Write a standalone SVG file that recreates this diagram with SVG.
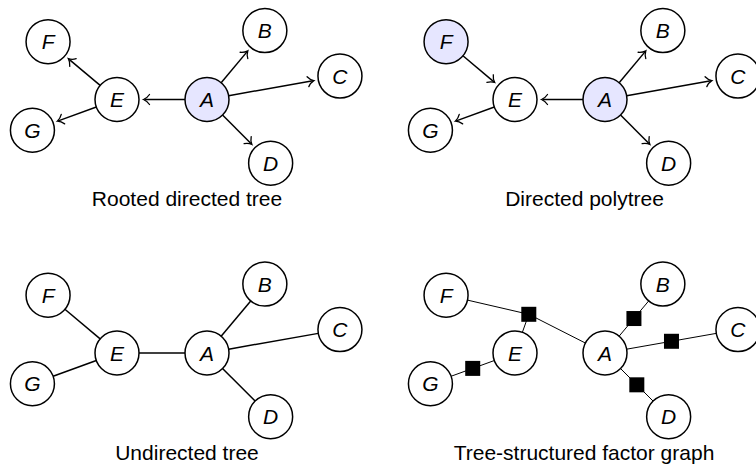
<svg xmlns="http://www.w3.org/2000/svg" width="756" height="464" viewBox="0 0 756 464">
<style>
.n circle{fill:#ffffff;stroke:#000;stroke-width:1.5}
.n.hl circle{fill:#e6e6ff}
.n text{font-family:"Liberation Sans",Arial,sans-serif;font-style:italic;font-size:21px;text-anchor:middle;fill:#000}
.cap{font-family:"Liberation Sans",Arial,sans-serif;font-size:21px;text-anchor:middle;fill:#000}
.e{stroke:#000;stroke-width:1.5;fill:none}
.arr{marker-end:url(#to)}
.thin{stroke:#000;stroke-width:1;fill:none}
.fac{fill:#000}
</style>
<defs>
<marker id="to" markerUnits="userSpaceOnUse" markerWidth="12" markerHeight="14" viewBox="-8 -7 10 14" refX="-1" refY="0" orient="auto">
<path d="M -6 -5 C -4 -2 -1.5 -0.6 0 0 C -1.5 0.6 -4 2 -6 5" fill="none" stroke="#000" stroke-width="1.3" stroke-linecap="round"/>
</marker>
</defs>

<!-- Panel 1: Rooted directed tree -->
<g id="panel1">
<g id="p1-edges">
<line class="e arr" x1="221.14" y1="82.65" x2="247.17" y2="51.63"/>
<line class="e arr" x1="228.67" y1="95.68" x2="312.87" y2="80.83"/>
<line class="e arr" x1="222.56" y1="115.06" x2="251.19" y2="143.69"/>
<line class="e arr" x1="185" y1="99.5" x2="144.5" y2="99.5"/>
<line class="e arr" x1="100.15" y1="85.36" x2="69.13" y2="59.33"/>
<line class="e arr" x1="96.33" y1="107.02" x2="58.27" y2="120.87"/>
</g>
<g id="p1-A" class="n hl"><circle cx="207" cy="99.5" r="22"/><text x="207" y="107">A</text></g>
<g id="p1-B" class="n"><circle cx="264.85" cy="30.56" r="22"/><text x="264.85" y="38.06">B</text></g>
<g id="p1-C" class="n"><circle cx="339.95" cy="76.06" r="22"/><text x="339.95" y="83.56">C</text></g>
<g id="p1-D" class="n"><circle cx="270.64" cy="163.14" r="22"/><text x="270.64" y="170.64">D</text></g>
<g id="p1-E" class="n"><circle cx="117" cy="99.5" r="22"/><text x="117" y="107">E</text></g>
<g id="p1-F" class="n"><circle cx="48.06" cy="41.65" r="22"/><text x="48.06" y="49.15">F</text></g>
<g id="p1-G" class="n"><circle cx="32.43" cy="130.28" r="22"/><text x="32.43" y="137.78">G</text></g>
<text class="cap" x="187" y="206">Rooted directed tree</text>
</g>

<!-- Panel 2: Directed polytree -->
<g id="panel2" transform="translate(398,0)">
<g id="p2-edges">
<line class="e arr" x1="221.14" y1="82.65" x2="247.17" y2="51.63"/>
<line class="e arr" x1="228.67" y1="95.68" x2="312.87" y2="80.83"/>
<line class="e arr" x1="222.56" y1="115.06" x2="251.19" y2="143.69"/>
<line class="e arr" x1="185" y1="99.5" x2="144.5" y2="99.5"/>
<line class="e arr" x1="64.91" y1="55.79" x2="95.93" y2="81.82"/>
<line class="e arr" x1="96.33" y1="107.02" x2="58.27" y2="120.87"/>
</g>
<g id="p2-A" class="n hl"><circle cx="207" cy="99.5" r="22"/><text x="207" y="107">A</text></g>
<g id="p2-B" class="n"><circle cx="264.85" cy="30.56" r="22"/><text x="264.85" y="38.06">B</text></g>
<g id="p2-C" class="n"><circle cx="339.95" cy="76.06" r="22"/><text x="339.95" y="83.56">C</text></g>
<g id="p2-D" class="n"><circle cx="270.64" cy="163.14" r="22"/><text x="270.64" y="170.64">D</text></g>
<g id="p2-E" class="n"><circle cx="117" cy="99.5" r="22"/><text x="117" y="107">E</text></g>
<g id="p2-F" class="n hl"><circle cx="48.06" cy="41.65" r="22"/><text x="48.06" y="49.15">F</text></g>
<g id="p2-G" class="n"><circle cx="32.43" cy="130.28" r="22"/><text x="32.43" y="137.78">G</text></g>
<text class="cap" x="186.5" y="206">Directed polytree</text>
</g>

<!-- Panel 3: Undirected tree -->
<g id="panel3" transform="translate(0,253.5)">
<g id="p3-edges">
<line class="e" x1="221.14" y1="82.65" x2="250.71" y2="47.41"/>
<line class="e" x1="228.67" y1="95.68" x2="318.28" y2="79.88"/>
<line class="e" x1="222.56" y1="115.06" x2="255.08" y2="147.58"/>
<line class="e" x1="185" y1="99.5" x2="139" y2="99.5"/>
<line class="e" x1="100.15" y1="85.36" x2="64.91" y2="55.79"/>
<line class="e" x1="96.33" y1="107.02" x2="53.10" y2="122.76"/>
</g>
<g id="p3-A" class="n"><circle cx="207" cy="99.5" r="22"/><text x="207" y="107">A</text></g>
<g id="p3-B" class="n"><circle cx="264.85" cy="30.56" r="22"/><text x="264.85" y="38.06">B</text></g>
<g id="p3-C" class="n"><circle cx="339.95" cy="76.06" r="22"/><text x="339.95" y="83.56">C</text></g>
<g id="p3-D" class="n"><circle cx="270.64" cy="163.14" r="22"/><text x="270.64" y="170.64">D</text></g>
<g id="p3-E" class="n"><circle cx="117" cy="99.5" r="22"/><text x="117" y="107">E</text></g>
<g id="p3-F" class="n"><circle cx="48.06" cy="41.65" r="22"/><text x="48.06" y="49.15">F</text></g>
<g id="p3-G" class="n"><circle cx="32.43" cy="130.28" r="22"/><text x="32.43" y="137.78">G</text></g>
<text class="cap" x="187" y="206">Undirected tree</text>
</g>

<!-- Panel 4: Tree-structured factor graph -->
<g id="panel4" transform="translate(398,253.5)">
<g id="p4-edges">
<line class="thin" x1="221.14" y1="82.65" x2="250.71" y2="47.41"/>
<line class="thin" x1="228.67" y1="95.68" x2="318.28" y2="79.88"/>
<line class="thin" x1="222.56" y1="115.06" x2="255.08" y2="147.58"/>
<line class="thin" x1="96.33" y1="107.02" x2="53.10" y2="122.76"/>
<line class="thin" x1="69.49" y1="46.61" x2="130.8" y2="60.8"/>
<line class="thin" x1="130.8" y1="60.8" x2="124.39" y2="78.78"/>
<line class="thin" x1="130.8" y1="60.8" x2="187.38" y2="89.54"/>
</g>
<g id="p4-factors">
<rect id="f-FEA" class="fac" x="123.3" y="53.3" width="15" height="15"/>
<rect id="f-EG" class="fac" x="67.22" y="107.39" width="15" height="15"/>
<rect id="f-AB" class="fac" x="228.43" y="57.53" width="15" height="15"/>
<rect id="f-AC" class="fac" x="265.98" y="80.28" width="15" height="15"/>
<rect id="f-AD" class="fac" x="231.32" y="123.82" width="15" height="15"/>
</g>
<g id="p4-A" class="n"><circle cx="207" cy="99.5" r="22"/><text x="207" y="107">A</text></g>
<g id="p4-B" class="n"><circle cx="264.85" cy="30.56" r="22"/><text x="264.85" y="38.06">B</text></g>
<g id="p4-C" class="n"><circle cx="339.95" cy="76.06" r="22"/><text x="339.95" y="83.56">C</text></g>
<g id="p4-D" class="n"><circle cx="270.64" cy="163.14" r="22"/><text x="270.64" y="170.64">D</text></g>
<g id="p4-E" class="n"><circle cx="117" cy="99.5" r="22"/><text x="117" y="107">E</text></g>
<g id="p4-F" class="n"><circle cx="48.06" cy="41.65" r="22"/><text x="48.06" y="49.15">F</text></g>
<g id="p4-G" class="n"><circle cx="32.43" cy="130.28" r="22"/><text x="32.43" y="137.78">G</text></g>
<text class="cap" x="186" y="206">Tree-structured factor graph</text>
</g>
</svg>
